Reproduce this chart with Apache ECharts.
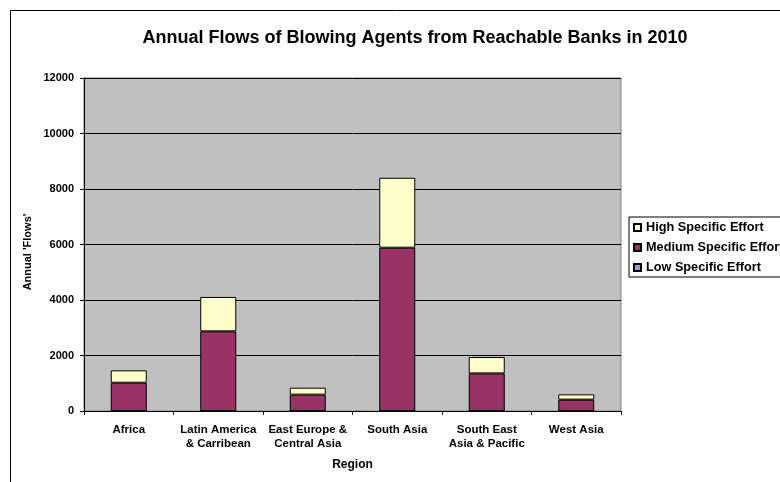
<!DOCTYPE html>
<html>
<head>
<meta charset="utf-8">
<script src="https://cdn.jsdelivr.net/npm/echarts@6/dist/echarts.min.js"></script>
<style>html,body{margin:0;padding:0;background:#fff}#c{width:780px;height:482px}</style>
</head>
<body>
<div id="c"></div>
<script>
var categories = ['Africa', 'Latin America\n& Carribean', 'East Europe &\nCentral Asia', 'South Asia', 'South East\nAsia & Pacific', 'West Asia'];
var lowEffort = [0, 0, 0, 0, 0, 0];
var mediumEffort = [1020, 2870, 590, 5885, 1355, 410];
var highEffort = [445, 1240, 250, 2520, 590, 190];
var yTicks = [0, 2000, 4000, 6000, 8000, 10000, 12000];

var FONT = '"Liberation Sans", Arial, sans-serif';
var chart = echarts.init(document.getElementById('c'), null, {renderer: 'canvas'});
var barStyle = function (c) { return {color: c, borderColor: '#000', borderWidth: 1}; };
chart.setOption({
  animation: false,
  backgroundColor: '#fff',
  title: {
    text: 'Annual Flows of Blowing Agents from Reachable Banks in 2010',
    left: 410, top: 24, textAlign: 'center',
    textStyle: {fontFamily: FONT, fontWeight: 'bold', fontSize: 18, color: '#000'}
  },
  graphic: [{
    type: 'rect', left: 8, top: 8, shape: {width: 800, height: 500},
    style: {fill: 'none', stroke: '#000', lineWidth: 1}, silent: true, z: -1
  }, {
    type: 'text', x: 28, y: 252, rotation: Math.PI / 2, silent: true,
    style: {text: "Annual 'Flows'", align: 'center', verticalAlign: 'middle',
      font: 'bold 11px ' + FONT, fill: '#000'}
  }],
  legend: {
    orient: 'vertical', left: 629, top: 217,
    data: ['High Specific Effort', 'Medium Specific Effort', 'Low Specific Effort'],
    icon: 'rect', itemWidth: 7, itemHeight: 7, itemGap: 7,
    padding: [4, 40, 3, 4],
    borderColor: '#000', borderWidth: 1, backgroundColor: '#fff',
    textStyle: {fontFamily: FONT, fontWeight: 'bold', fontSize: 12.7, lineHeight: 12, color: '#000'}
  },
  grid: {left: 84, right: 159, top: 78, bottom: 71, show: true, backgroundColor: '#C0C0C0', borderColor: '#808080', borderWidth: 1},
  xAxis: {
    type: 'category', data: categories,
    name: 'Region', nameLocation: 'middle', nameGap: 48,
    nameTextStyle: {fontFamily: FONT, fontWeight: 'bold', fontSize: 12, color: '#000'},
    axisLine: {lineStyle: {color: '#000', width: 1}},
    axisTick: {show: true, length: 4, lineStyle: {color: '#000'}},
    axisLabel: {fontFamily: FONT, fontWeight: 'bold', fontSize: 11.5, color: '#000', margin: 12, lineHeight: 14, interval: 0}
  },
  yAxis: {
    type: 'value', min: 0, max: 12000, interval: 2000,
    axisLine: {show: true, lineStyle: {color: '#000', width: 1}},
    axisTick: {show: true, length: 4, lineStyle: {color: '#000'}},
    axisLabel: {fontFamily: FONT, fontWeight: 'bold', fontSize: 11, color: '#000', margin: 10,
      formatter: function (v) { return yTicks.indexOf(v) >= 0 ? String(v) : ''; }},
    splitLine: {show: true, lineStyle: {color: '#000', width: 1}}
  },
  series: [
    {name: 'Low Specific Effort', type: 'bar', stack: 's', data: lowEffort, barWidth: 36, itemStyle: barStyle('#9999FF')},
    {name: 'Medium Specific Effort', type: 'bar', stack: 's', data: mediumEffort, barWidth: 36, itemStyle: barStyle('#993366')},
    {name: 'High Specific Effort', type: 'bar', stack: 's', data: highEffort, barWidth: 36, itemStyle: barStyle('#FFFFCC')}
  ]
});
</script>
</body>
</html>
